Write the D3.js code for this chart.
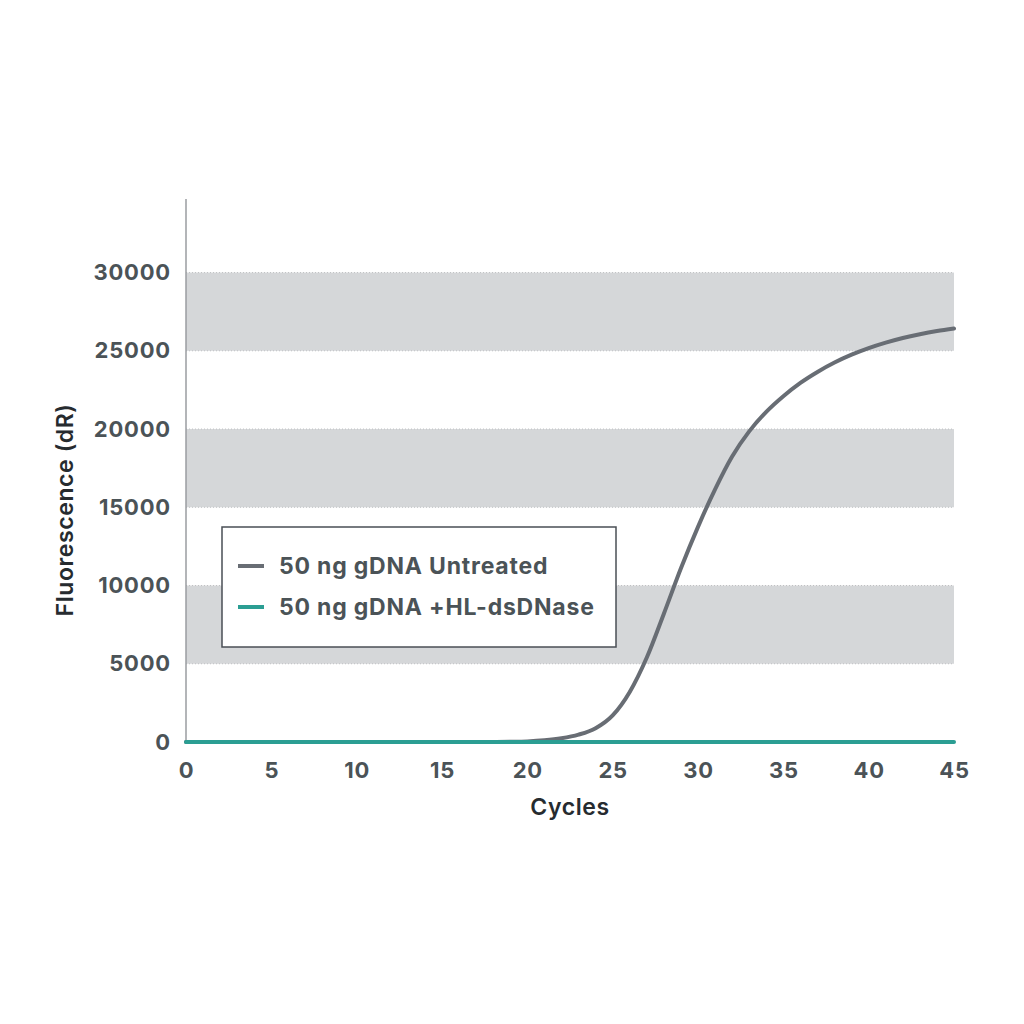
<!DOCTYPE html>
<html lang="en">
  <head>
    <meta charset="UTF-8" />
    <title>qPCR amplification</title>
    <script src="https://cdn.jsdelivr.net/npm/d3@7"></script>
    <style>
      body { margin: 0; background: #fff; }
      svg { display: block; }
      text { font-family: Inter, "Noto Sans", sans-serif; }
    </style>
  </head>
  <body>
    <svg width="1024" height="1024"></svg>
    <script>
      // data
      const cycles = d3.range(0, 46);
      const untreated = [
        0, 0, 0, 0, 0, 0, 0, 0, 0, 0,
        0, 0, 0, 0, 0, 0, 0, 0, 5, 15,
        40, 110, 240, 470, 880, 1700, 3200, 5400, 8200, 11100,
        13750, 16150, 18250, 19850, 21100, 22100, 22950, 23650, 24250, 24750,
        25170, 25520, 25820, 26060, 26260, 26420
      ];
      const treated = cycles.map(() => 0); // flat at zero the whole run
      const seriesNames = ["50 ng gDNA Untreated", "50 ng gDNA +HL-dsDNase"];
      const seriesColors = ["#686d74", "#2b9e93"];
      const yTicks = [0, 5000, 10000, 15000, 20000, 25000, 30000];
      const xTicks = [0, 5, 10, 15, 20, 25, 30, 35, 40, 45];
      const bands = [[5000, 10000], [15000, 20000], [25000, 30000]];

      const svg = d3.select("svg");
      const x = d3.scaleLinear().domain([0, 45]).range([186, 954]);
      const y = d3.scaleLinear().domain([0, 34700]).range([742, 199]);

      // shaded bands
      svg.selectAll("rect.band")
        .data(bands)
        .join("rect")
        .attr("class", "band")
        .attr("x", x(0))
        .attr("width", x(45) - x(0))
        .attr("y", d => y(d[1]))
        .attr("height", d => y(d[0]) - y(d[1]))
        .attr("fill", "#d5d7d9");

      // dotted edges on the bands
      svg.selectAll("line.edge")
        .data(bands.flat())
        .join("line")
        .attr("class", "edge")
        .attr("x1", x(0)).attr("x2", x(45))
        .attr("y1", d => y(d)).attr("y2", d => y(d))
        .attr("stroke", "#bfc1c3")
        .attr("stroke-width", 1)
        .attr("stroke-dasharray", "1,2");

      // y axis line
      svg.append("line")
        .attr("x1", x(0)).attr("x2", x(0))
        .attr("y1", y(34700)).attr("y2", y(0))
        .attr("stroke", "#9a9da0")
        .attr("stroke-width", 1.5);

      const yAxis = svg.append("g")
        .attr("transform", `translate(${x(0)},0)`)
        .call(d3.axisLeft(y).tickValues(yTicks).tickSize(0).tickPadding(15).tickFormat(d3.format("d")));
      yAxis.select(".domain").remove();
      yAxis.selectAll("text")
        .attr("font-size", 22)
        .attr("font-weight", 700)
        .attr("letter-spacing", 0.8)
        .attr("fill", "#4b5357")
        .attr("font-family", "Inter, sans-serif");

      const xAxis = svg.append("g")
        .attr("transform", `translate(0,${y(0)})`)
        .call(d3.axisBottom(x).tickValues(xTicks).tickSize(0).tickPadding(20));
      xAxis.select(".domain").remove();
      xAxis.selectAll("text")
        .attr("font-size", 22)
        .attr("font-weight", 700)
        .attr("letter-spacing", 0.8)
        .attr("fill", "#4b5357")
        .attr("font-family", "Inter, sans-serif");

      // axis titles
      svg.append("text")
        .attr("x", (x(0) + x(45)) / 2)
        .attr("y", 815)
        .attr("text-anchor", "middle")
        .attr("font-size", 23)
        .attr("font-weight", 600)
        .attr("letter-spacing", 0.6)
        .attr("fill", "#262b2f")
        .text("Cycles");

      svg.append("text")
        .attr("transform", "translate(73,510) rotate(-90)")
        .attr("text-anchor", "middle")
        .attr("font-size", 23)
        .attr("font-weight", 600)
        .attr("letter-spacing", 0.6)
        .attr("fill", "#262b2f")
        .text("Fluorescence (dR)");

      // curves
      const line = d3.line()
        .x((d, i) => x(cycles[i]))
        .y(d => y(d))
        .curve(d3.curveMonotoneX);

      svg.append("path")
        .attr("d", line(untreated))
        .attr("fill", "none")
        .attr("stroke", seriesColors[0])
        .attr("stroke-width", 4)
        .attr("stroke-linecap", "round");

      svg.append("path")
        .attr("d", line(treated))
        .attr("fill", "none")
        .attr("stroke", seriesColors[1])
        .attr("stroke-width", 4)
        .attr("stroke-linecap", "round");

      // legend
      const legend = svg.append("g").attr("transform", "translate(222,527)");
      legend.append("rect")
        .attr("width", 394)
        .attr("height", 120)
        .attr("fill", "#fff")
        .attr("stroke", "#4a4f55")
        .attr("stroke-width", 1.5);

      const item = legend.selectAll("g.item")
        .data(seriesNames)
        .join("g")
        .attr("class", "item")
        .attr("transform", (d, i) => `translate(0,${39 + i * 41})`);
      item.append("line")
        .attr("x1", 16).attr("x2", 42)
        .attr("stroke", (d, i) => seriesColors[i])
        .attr("stroke-width", 4);
      item.append("text")
        .attr("x", 57)
        .attr("dy", "0.36em")
        .attr("font-size", 23)
        .attr("font-weight", 700)
        .attr("letter-spacing", 0.8)
        .attr("fill", "#4b5357")
        .text(d => d);
    </script>
  </body>
</html>
